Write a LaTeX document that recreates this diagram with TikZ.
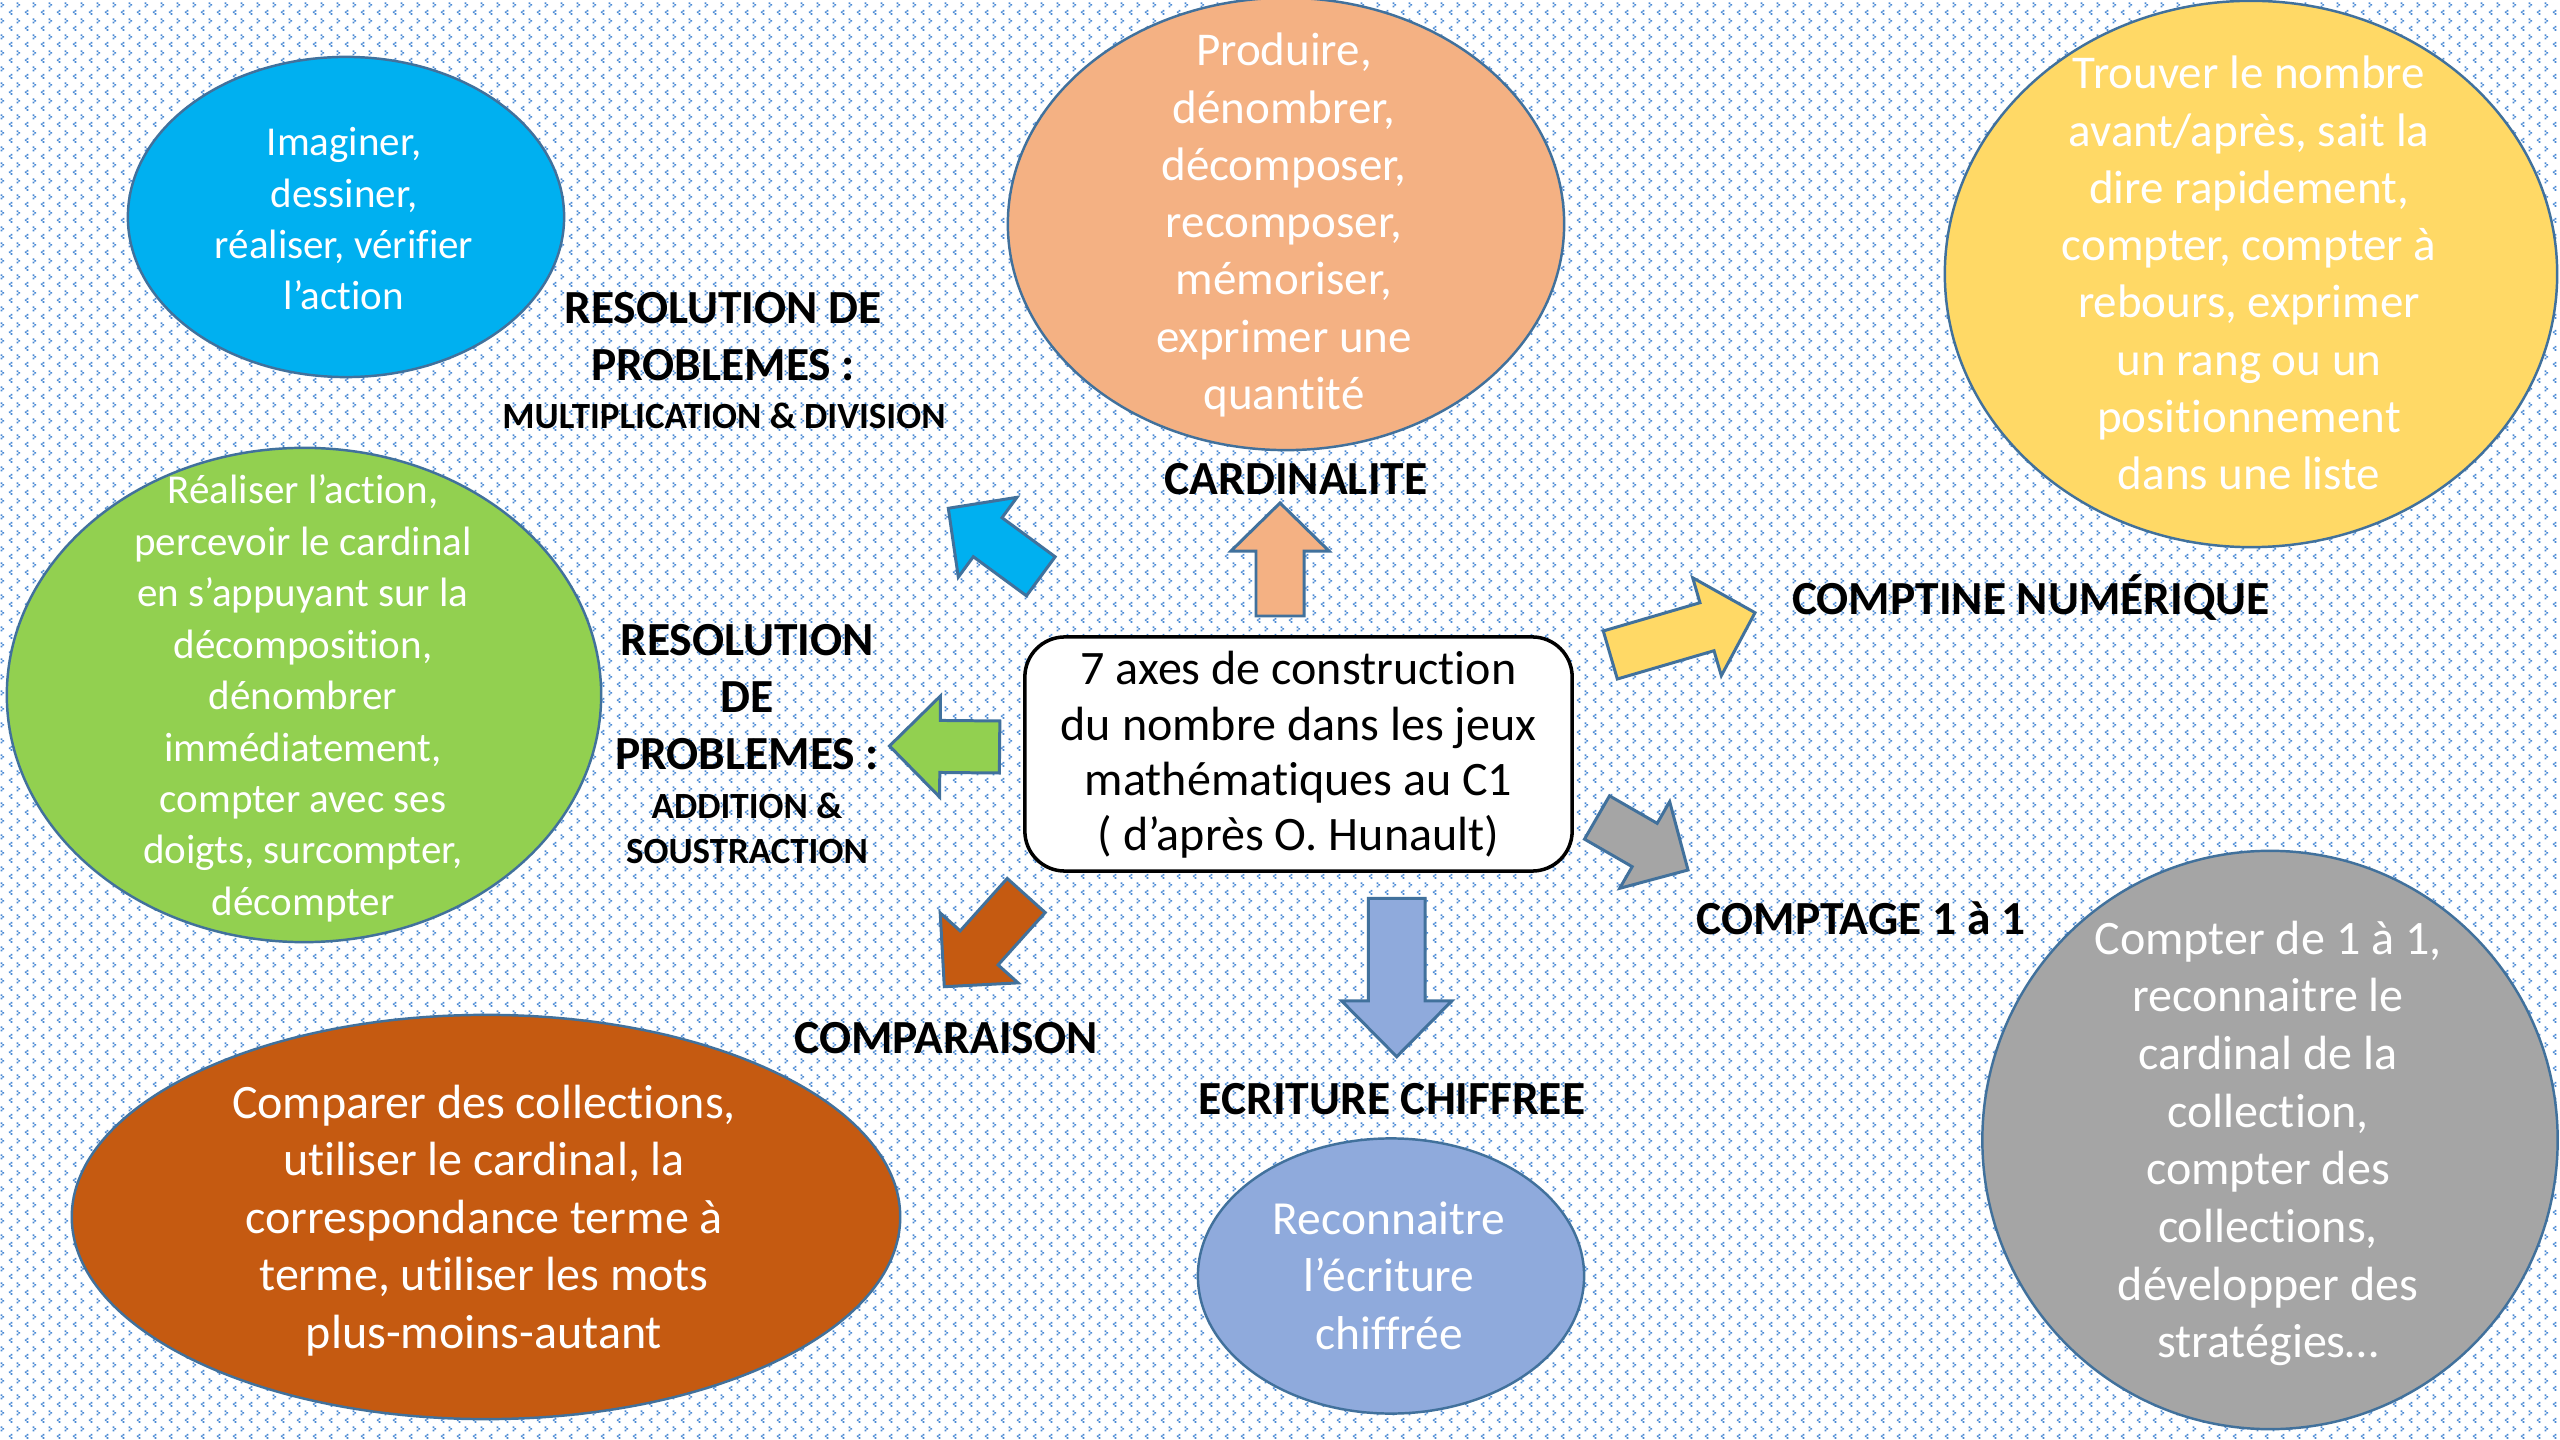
\documentclass[tikz,border=0pt]{standalone}
\usepackage{fontspec}
\setmainfont{Carlito}[Ligatures=NoCommon]
\usetikzlibrary{shapes.geometric,calc,patterns}
\definecolor{cblue}{HTML}{00B0F0}
\definecolor{cpeach}{HTML}{F4B183}
\definecolor{cyellow}{HTML}{FFD966}
\definecolor{cgreen}{HTML}{92D050}
\definecolor{cbrown}{HTML}{C55A11}
\definecolor{clblue}{HTML}{8FAADC}
\definecolor{cgray}{HTML}{A5A5A5}
\definecolor{outl}{HTML}{41719C}
\definecolor{dotc}{HTML}{4A8AD4}
\pgfdeclarepatternformonly{bgdots}{\pgfqpoint{0pt}{0pt}}{\pgfqpoint{4.55pt}{4.55pt}}{\pgfqpoint{4.55pt}{4.55pt}}{%
  \pgfpathrectangle{\pgfqpoint{0.5pt}{3.6pt}}{\pgfqpoint{0.52pt}{0.52pt}}%
  \pgfpathrectangle{\pgfqpoint{1.0pt}{3.1pt}}{\pgfqpoint{0.52pt}{0.52pt}}%
  \pgfpathrectangle{\pgfqpoint{0.5pt}{2.6pt}}{\pgfqpoint{0.52pt}{0.52pt}}%
  \pgfpathrectangle{\pgfqpoint{3.5pt}{1.35pt}}{\pgfqpoint{0.52pt}{0.52pt}}%
  \pgfpathrectangle{\pgfqpoint{3.0pt}{0.85pt}}{\pgfqpoint{0.52pt}{0.52pt}}%
  \pgfpathrectangle{\pgfqpoint{3.5pt}{0.35pt}}{\pgfqpoint{0.52pt}{0.52pt}}%
  \pgfusepath{fill}}
\newcommand{\mylines}[3]{\fontsize{#1}{#2}\selectfont\begin{tabular}[t]{@{}c@{}}#3\end{tabular}}
% name, tail, tip, shaft half, head half, head length, colour
\newcommand{\blkarrow}[7]{%
  \coordinate (#1-b) at ($(#3)!#6!(#2)$);
  \draw[arrowline, fill=#7] ($(#2)!#4!90:(#3)$) -- ($(#1-b)!#4!90:(#3)$) -- ($(#1-b)!#5!90:(#3)$) -- (#3)
    -- ($(#1-b)!#5!-90:(#3)$) -- ($(#1-b)!#4!-90:(#3)$) -- ($(#2)!#4!-90:(#3)$) -- cycle;}
\begin{document}
\begin{tikzpicture}[x=0.01cm,y=-0.01cm,
  bubble/.style={ellipse, draw=outl, line width=0.7pt, inner sep=0pt},
  btext/.style={text=white, inner sep=0pt, anchor=base},
  lbl/.style={inner sep=0pt, anchor=base, font=\bfseries},
  arrowline/.style={draw=outl, line width=0.85pt, line join=miter}]
\useasboundingbox (0,0) rectangle (2560,1440);
\fill[white] (0,0) rectangle (2560,1440);
\fill[pattern=bgdots, pattern color=dotc] (0,0) rectangle (2560,1440);

% ellipses
\node[bubble, fill=cblue, minimum width=4.36cm, minimum height=3.2cm] (e1) at (346,217) {};
\node[btext] (t1) at (344,156) {\mylines{11.67pt}{14.51pt}{Imaginer,\\dessiner,\\réaliser, vérifier\\l’action}};

\node[bubble, fill=cpeach, minimum width=5.56cm, minimum height=4.52cm] (e2) at (1286,224) {};
\node[btext] (t2) at (1284,66) {\mylines{13.37pt}{16.27pt}{Produire,\\dénombrer,\\décomposer,\\recomposer,\\mémoriser,\\exprimer une\\quantité}};

\node[bubble, fill=cyellow, minimum width=6.12cm, minimum height=5.46cm] (e3) at (2251,274) {};
\node[btext] (t3) at (2249,89) {\mylines{13.37pt}{16.27pt}{Trouver le nombre\\avant/après, sait la\\dire rapidement,\\compter, compter à\\rebours, exprimer\\un rang ou un\\positionnement\\dans une liste}};

\node[bubble, fill=cgreen, minimum width=5.94cm, minimum height=4.94cm] (e4) at (304,695) {};
\node[btext] (t4) at (303,504) {\mylines{11.67pt}{14.62pt}{Réaliser l’action,\\percevoir le cardinal\\en s’appuyant sur la\\décomposition,\\dénombrer\\immédiatement,\\compter avec ses\\doigts, surcompter,\\décompter}};

\node[bubble, fill=cbrown, minimum width=8.28cm, minimum height=4.04cm] (e5) at (486,1217) {};
\node[btext] (t5) at (484,1118) {\mylines{13.66pt}{16.36pt}{Comparer des collections,\\utiliser le cardinal, la\\correspondance terme à\\terme, utiliser les mots\\plus-moins-autant}};

\node[bubble, fill=clblue, minimum width=3.86cm, minimum height=2.75cm] (e6) at (1391,1276) {};
\node[btext] (t6) at (1389,1234) {\mylines{13.5pt}{16.36pt}{Reconnaitre\\l’écriture\\chiffrée}};

\node[bubble, fill=cgray, minimum width=5.75cm, minimum height=5.78cm] (e7) at (2270,1140) {};
\node[btext] (t7) at (2268,954) {\mylines{13.66pt}{16.4pt}{Compter de 1 à 1,\\reconnaitre le\\cardinal de la\\collection,\\compter des\\collections,\\développer des\\stratégies…}};

% block arrows
\coordinate (aup-s) at (1280,616);   \coordinate (aup-t) at (1280,503);
\coordinate (abl-s) at (1040.8,576.3); \coordinate (abl-t) at (948.3,508.3);
\coordinate (aye-s) at (1610.3,655); \coordinate (aye-t) at (1755,612.7);
\coordinate (agr-s) at (1597,817.5); \coordinate (agr-t) at (1688,870);
\coordinate (abr-s) at (1026.2,895.5); \coordinate (abr-t) at (944.3,986.7);
\coordinate (adn-s) at (1396.7,898.3); \coordinate (adn-t) at (1396.7,1056.7);
\coordinate (agn-s) at (999.6,747); \coordinate (agn-t) at (889.5,746);
\blkarrow{aup}{aup-s}{aup-t}{0.24cm}{0.49cm}{0.48cm}{cpeach}
\blkarrow{abl}{abl-s}{abl-t}{0.242cm}{0.495cm}{0.488cm}{cblue}
\blkarrow{aye}{aye-s}{aye-t}{0.25cm}{0.51cm}{0.50cm}{cyellow}
\blkarrow{agr}{agr-s}{agr-t}{0.25cm}{0.50cm}{0.50cm}{cgray}
\blkarrow{abr}{abr-s}{abr-t}{0.255cm}{0.523cm}{0.521cm}{cbrown}
\blkarrow{adn}{adn-s}{adn-t}{0.283cm}{0.55cm}{0.557cm}{clblue}
\blkarrow{agn}{agn-s}{agn-t}{0.26cm}{0.505cm}{0.505cm}{cgreen}

% central box
\node[draw=black, line width=1pt, fill=white, rounded corners=0.4cm, minimum width=5.47cm, minimum height=2.34cm, inner sep=0pt] (c) at (1298.5,754) {};
\node[inner sep=0pt, anchor=base] (ct) at (1298.5,685) {\mylines{13.66pt}{15.73pt}{7 axes de construction\\du nombre dans les jeux\\mathématiques au C1\\( d’après O. Hunault)}};

% labels
\node[lbl] (l1) at (723,324) {\mylines{13.5pt}{16.2pt}{RESOLUTION DE\\PROBLEMES :}};
\node[lbl] (l1b) at (724,429) {\mylines{10.5pt}{12.8pt}{MULTIPLICATION \& DIVISION}};
\node[lbl] (l2) at (1296,495) {\mylines{13.5pt}{16.2pt}{CARDINALITE}};
\node[lbl] (l3) at (2031,615) {\mylines{13.5pt}{16.2pt}{COMPTINE NUMÉRIQUE}};
\node[lbl] (l4) at (747,656) {\mylines{13.5pt}{16.2pt}{RESOLUTION\\DE\\PROBLEMES :}};
\node[lbl] (l4b) at (747,818.5) {\mylines{10.5pt}{12.66pt}{ADDITION \&\\SOUSTRACTION}};
\node[lbl] (l5) at (946,1054) {\mylines{13.5pt}{16.2pt}{COMPARAISON}};
\node[lbl] (l6) at (1392,1114) {\mylines{13.5pt}{16.2pt}{ECRITURE CHIFFREE}};
\node[lbl] (l7) at (1861,935) {\mylines{13.5pt}{16.2pt}{COMPTAGE 1 à 1}};
\end{tikzpicture}
\end{document}
